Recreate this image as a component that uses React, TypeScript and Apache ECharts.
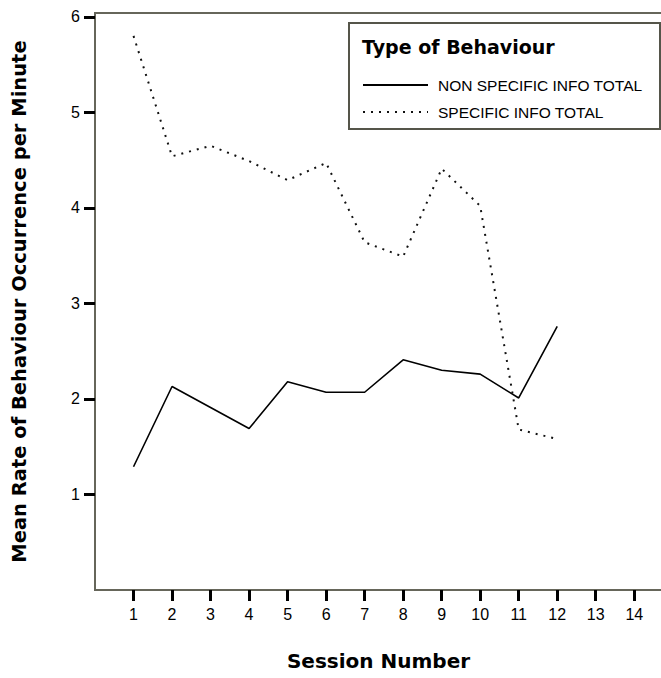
import React, { useEffect, useRef } from "react";
import * as echarts from "echarts";

const sessions = [1, 2, 3, 4, 5, 6, 7, 8, 9, 10, 11, 12];
const nonSpecific = [1.29, 2.13, 1.91, 1.69, 2.18, 2.07, 2.07, 2.41, 2.3, 2.26, 2.01, 2.76];
const specific = [5.8, 4.54, 4.65, 4.49, 4.29, 4.47, 3.64, 3.49, 4.41, 4.02, 1.68, 1.58];
const xTicks = [1, 2, 3, 4, 5, 6, 7, 8, 9, 10, 11, 12, 13, 14];
const yTicks = [1, 2, 3, 4, 5, 6];
const seriesNames = ["NON SPECIFIC INFO TOTAL", "SPECIFIC INFO TOTAL"];
const legendTitle = "Type of Behaviour";
const xTitle = "Session Number";
const yTitle = "Mean Rate of Behaviour Occurrence per Minute";

const titleFont = "'DejaVu Sans', Verdana, sans-serif";
const bodyFont = "'Liberation Sans', Arial, sans-serif";

export default function App() {
  const ref = useRef<HTMLDivElement>(null);
  useEffect(() => {
    if (!ref.current) return;
    const chart = echarts.init(ref.current, null, { renderer: "svg" });
    const tickStyle = { show: true, length: 11, lineStyle: { color: "#000", width: 3 } };
    chart.setOption({
      animation: false,
      backgroundColor: "#fff",
      grid: {
        left: 95,
        top: 13,
        right: -1,
        bottom: 88,
        outerBoundsMode: "none",
        containLabel: false,
        show: true,
        borderColor: "#66665a",
        borderWidth: 2,
        backgroundColor: "transparent",
      },
      xAxis: {
        type: "value",
        min: 0,
        max: 14.72,
        name: xTitle,
        nameLocation: "middle",
        nameGap: 61,
        nameTextStyle: { fontFamily: titleFont, fontWeight: "bold", fontSize: 20, color: "#000" },
        axisLine: { show: true, onZero: false, lineStyle: { color: "#66665a", width: 2 } },
        axisTick: { ...tickStyle, customValues: xTicks },
        axisLabel: {
          customValues: xTicks,
          margin: 16,
          fontFamily: bodyFont,
          fontSize: 16,
          color: "#000",
        },
        splitLine: { show: false },
      },
      yAxis: {
        type: "value",
        min: 0,
        max: 6.04,
        name: yTitle,
        nameLocation: "middle",
        nameGap: 66,
        nameTextStyle: { fontFamily: titleFont, fontWeight: "bold", fontSize: 19.5, color: "#000" },
        axisLine: { show: true, onZero: false, lineStyle: { color: "#66665a", width: 2 } },
        axisTick: { ...tickStyle, customValues: yTicks },
        axisLabel: {
          customValues: yTicks,
          margin: 15,
          fontFamily: bodyFont,
          fontSize: 16,
          color: "#000",
        },
        splitLine: { show: false },
      },
      legend: {
        orient: "vertical",
        left: 362,
        top: 77,
        itemWidth: 65,
        itemHeight: 14,
        itemGap: 11,
        padding: 0,
        z: 60,
        data: seriesNames,
        itemStyle: { opacity: 0, borderWidth: 0 },
        textStyle: { fontFamily: bodyFont, fontSize: 15.5, color: "#000", padding: [0, 0, 0, 5] },
      },
      graphic: [
        {
          type: "rect",
          left: 348,
          top: 22,
          shape: { width: 311, height: 106 },
          style: { fill: "#fff", stroke: "#55554a", lineWidth: 2 },
          z: 10,
        },
        {
          type: "text",
          left: 362,
          top: 37,
          style: {
            text: legendTitle,
            fontFamily: titleFont,
            fontWeight: "bold",
            fontSize: 19,
            fill: "#000",
          },
          z: 11,
        },
      ],
      series: [
        {
          name: seriesNames[0],
          type: "line",
          symbol: "none",
          data: sessions.map((s, i) => [s, nonSpecific[i]]),
          lineStyle: { color: "#000", width: 1.6, type: "solid" },
          itemStyle: { color: "#000" },
          z: 3,
        },
        {
          name: seriesNames[1],
          type: "line",
          symbol: "none",
          data: sessions.map((s, i) => [s, specific[i]]),
          lineStyle: { color: "#111", width: 2, type: [2, 6], cap: "butt" },
          itemStyle: { color: "#111" },
          z: 3,
        },
      ],
    });
    return () => chart.dispose();
  }, []);
  return (
    <div
      ref={ref}
      style={{ position: "absolute", left: 0, top: 0, width: 661, height: 678 }}
    />
  );
}
